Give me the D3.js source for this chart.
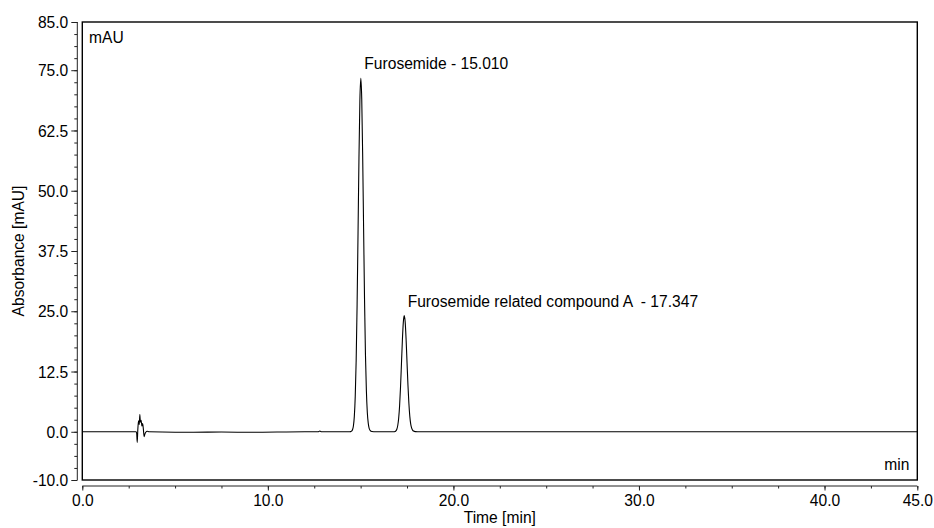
<!DOCTYPE html>
<html>
<head>
<meta charset="utf-8">
<script src="https://cdn.jsdelivr.net/npm/d3@7"></script>
<style>
  html, body { margin: 0; padding: 0; background: #fff; }
  svg { display: block; }
  text { font-family: Arial, "Liberation Sans", sans-serif; font-size: 15.6px; fill: #000; }
</style>
</head>
<body>
<svg id="chart" width="934" height="528"></svg>
<script>
// Chromatogram trace: retention time (min) and detector absorbance (mAU)
const timeMin = [
  0.0, 1.0, 2.0, 2.90, 2.93, 2.96, 2.99, 3.03, 3.07, 3.10, 3.13, 3.17, 3.21, 3.25,
  3.29, 3.33, 3.37, 3.42, 3.50, 3.60, 5.0, 6.0, 7.5, 9.0, 10.5, 12.0, 12.7, 12.8,
  12.9, 13.5, 14.2, 14.41, 14.46, 14.51, 14.56, 14.61, 14.66, 14.71, 14.76, 14.81,
  14.86, 14.91, 14.96, 15.01, 15.06, 15.11, 15.16, 15.21, 15.26, 15.31, 15.36,
  15.41, 15.46, 15.51, 15.61, 15.80, 16.3, 16.80, 16.85, 16.90, 16.95, 17.00,
  17.05, 17.10, 17.15, 17.20, 17.25, 17.30, 17.347, 17.40, 17.45, 17.50, 17.55,
  17.60, 17.65, 17.70, 17.75, 17.80, 17.85, 17.95, 18.2, 20.0, 25.0, 30.0, 35.0,
  40.0, 45.0
];
const absorbance = [
  0.0, 0.0, 0.0, 0.0, -0.3, -2.2, 0.3, 2.3, 1.5, 3.6, 2.0, 2.4, 1.2, 1.7,
  0.6, -1.0, -0.5, -0.1, 0.1, 0.0, -0.1, -0.1, -0.05, -0.1, -0.05, 0.0, 0.0, 0.15,
  0.0, 0.0, 0.0, 0.0, 0.03, 0.12, 0.42, 1.2, 3.2, 7.4, 14.9, 26.4,
  41.3, 56.8, 68.8, 73.3, 69.0, 57.3, 42.2, 27.5, 16.0, 8.5, 4.0,
  1.8, 0.7, 0.3, 0.05, 0.0, 0.0, 0.0, 0.06, 0.19, 0.53, 1.3,
  2.8, 5.4, 9.3, 14.1, 19.0, 22.7, 24.1, 22.8, 19.2, 14.4, 9.7,
  5.9, 3.2, 1.6, 0.75, 0.35, 0.15, 0.04, 0.0, 0.0, 0.0, 0.0, 0.0,
  0.0, 0.0
];

// Annotated peaks
const peakNames = ["Furosemide - 15.010", "Furosemide related compound A  - 17.347"];
const peakTimes = [15.010, 17.347];
const peakHeights = [73.3, 24.1];

// Axis ticks
const xTickValues = [0, 10, 20, 30, 40, 45];
const xTickLabels = ["0.0", "10.0", "20.0", "30.0", "40.0", "45.0"];
const yTickValues = [-10, 0, 12.5, 25, 37.5, 50, 62.5, 75, 85];
const yTickLabels = ["-10.0", "0.0", "12.5", "25.0", "37.5", "50.0", "62.5", "75.0", "85.0"];

const svg = d3.select("#chart");
const frame = { left: 82.3, right: 917.3, top: 22, bottom: 480 };

const x = d3.scaleLinear().domain([0, 45]).range([frame.left, frame.right]);
const y = d3.scaleLinear().domain([-10, 85]).range([frame.bottom, frame.top]);

// Plot frame
svg.append("rect")
  .attr("x", frame.left).attr("y", frame.top)
  .attr("width", frame.right - frame.left)
  .attr("height", frame.bottom - frame.top)
  .attr("fill", "none").attr("stroke", "#000").attr("stroke-width", 1.4);

svg.append("clipPath").attr("id", "plotClip")
  .append("rect")
  .attr("x", frame.left).attr("y", frame.top)
  .attr("width", frame.right - frame.left)
  .attr("height", frame.bottom - frame.top);

// Y axis (offset to the left of the frame)
const yAxisX = 77.3;
const yMinor = d3.range(-10, 85.01, 2.5);
svg.append("g")
  .attr("transform", `translate(${yAxisX},0)`)
  .call(d3.axisLeft(y).tickValues(yMinor).tickSize(3).tickFormat(""))
  .call(g => g.select(".domain").remove())
  .selectAll("line").attr("stroke", "#222");
const yAxis = svg.append("g")
  .attr("transform", `translate(${yAxisX},0)`)
  .call(d3.axisLeft(y).tickValues(yTickValues).tickSize(6).tickPadding(3)
    .tickFormat((d, i) => yTickLabels[i]));
yAxis.select(".domain").attr("stroke", "#222").attr("d", `M-0,${y(85)}V${y(-10)}`);
yAxis.selectAll("line").attr("stroke", "#222");
yAxis.selectAll("text").attr("dy", "0.36em");
yAxis.attr("font-family", null).attr("font-size", null);

// X axis (offset below the frame)
const xAxisY = 486;
const xMinor = d3.range(0, 45.01, 2.5);
svg.append("g")
  .attr("transform", `translate(0,${xAxisY})`)
  .call(d3.axisBottom(x).tickValues(xMinor).tickSize(2.5).tickFormat(""))
  .call(g => g.select(".domain").remove())
  .selectAll("line").attr("stroke", "#222");
const xAxis = svg.append("g")
  .attr("transform", `translate(0,${xAxisY})`)
  .call(d3.axisBottom(x).tickValues(xTickValues).tickSize(4.5).tickPadding(4)
    .tickFormat((d, i) => xTickLabels[i]));
xAxis.select(".domain").attr("stroke", "#222").attr("d", `M${x(0)},0H${x(45)}`);
xAxis.selectAll("line").attr("stroke", "#222");
xAxis.selectAll("text").attr("dy", "0.71em");
xAxis.attr("font-family", null).attr("font-size", null);

// Axis titles
svg.append("text")
  .attr("x", (frame.left + frame.right) / 2).attr("y", 523)
  .attr("text-anchor", "middle")
  .text("Time [min]");
svg.append("text")
  .attr("transform", `translate(24,${(frame.top + frame.bottom) / 2}) rotate(-90)`)
  .attr("text-anchor", "middle")
  .text("Absorbance [mAU]");

// Unit captions inside the frame
svg.append("text").attr("x", 89).attr("y", 43).text("mAU");
svg.append("text").attr("x", 909.5).attr("y", 470).attr("text-anchor", "end").text("min");

// Trace
const trace = timeMin.map((t, i) => [t, absorbance[i]]);
svg.append("path")
  .datum(trace)
  .attr("clip-path", "url(#plotClip)")
  .attr("fill", "none")
  .attr("stroke", "#000")
  .attr("stroke-width", 1.1)
  .attr("stroke-linejoin", "round")
  .attr("d", d3.line().x(d => x(d[0])).y(d => y(d[1])).curve(d3.curveMonotoneX));

// Peak annotations
svg.selectAll("text.peak")
  .data(peakNames)
  .join("text")
  .attr("class", "peak")
  .style("white-space", "pre")
  .attr("x", (d, i) => x(peakTimes[i]) + 3.5)
  .attr("y", (d, i) => y(peakHeights[i]) - 9)
  .text(d => d);
</script>
</body>
</html>
